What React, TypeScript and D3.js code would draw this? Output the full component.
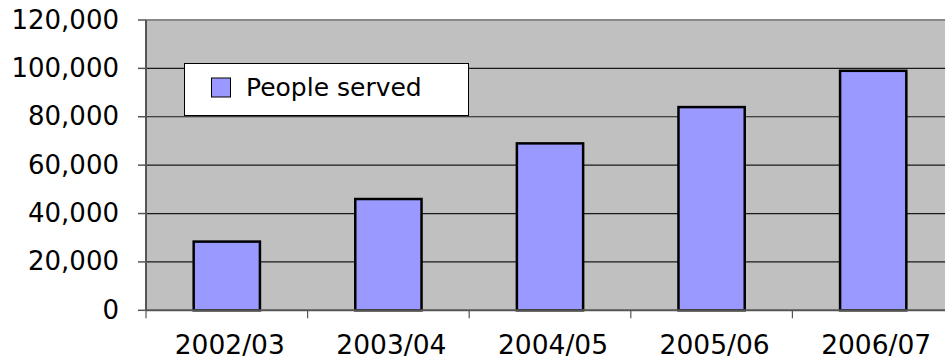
import React from "react";
import * as d3 from "d3";

const categories = ["2002/03", "2003/04", "2004/05", "2005/06", "2006/07"];
const peopleServed = [28400, 46000, 69000, 84000, 99000];
const yTicks = [0, 20000, 40000, 60000, 80000, 100000, 120000];
const seriesName = "People served";

const W = 945;
const H = 363;
const left = 146;
const right = 954;
const top = 20;
const bottom = 310.3;
const FONT = "'DejaVu Sans', sans-serif";

export default function App() {
  const x = d3.scaleBand<string>().domain(categories).range([left, right]).paddingInner(0).paddingOuter(0);
  const y = d3.scaleLinear().domain([0, 120000]).range([bottom, top]);
  const fmt = d3.format(",");
  const bw = x.bandwidth() * 0.41;
  const tickXs = categories.map((c) => x(c)!).concat([right]);

  return (
    <svg width={W} height={H} style={{ position: "absolute", left: 0, top: 0, background: "#fff" }} fontFamily={FONT}>
      <rect x={left} y={top} width={right - left} height={bottom - top} fill="#C0C0C0" />
      {yTicks.filter((t) => t > 0 && t < 120000).map((t) => (
        <line key={t} x1={left} x2={right} y1={y(t)} y2={y(t)} stroke="#1a1a1a" strokeWidth={1.2} />
      ))}
      <line x1={left} x2={right} y1={top} y2={top} stroke="#888" strokeWidth={2} />
      <line x1={left} x2={left} y1={top} y2={bottom} stroke="#555" strokeWidth={2} />
      {yTicks.map((t) => (
        <g key={t}>
          <line x1={left - 8} x2={left} y1={y(t)} y2={y(t)} stroke="#555" strokeWidth={1.5} />
          <text x={119} y={y(t) + 1} textAnchor="end" dominantBaseline="middle" fontSize={26} fill="#000">
            {fmt(t)}
          </text>
        </g>
      ))}
      {categories.map((c, i) => {
        const cx = x(c)! + x.bandwidth() / 2;
        return (
          <rect
            key={c}
            x={cx - bw / 2}
            y={y(peopleServed[i])}
            width={bw}
            height={bottom - y(peopleServed[i])}
            fill="#9999FF"
            stroke="#000"
            strokeWidth={2.5}
          />
        );
      })}
      <line x1={left} x2={right} y1={bottom} y2={bottom} stroke="#555" strokeWidth={2} />
      {tickXs.map((tx, i) => (
        <line key={i} x1={tx} x2={tx} y1={bottom} y2={bottom + 8} stroke="#555" strokeWidth={1.2} />
      ))}
      {categories.map((c) => (
        <text key={c} x={x(c)! + x.bandwidth() / 2 + 3} y={354} textAnchor="middle" fontSize={26.5} fill="#000">
          {c}
        </text>
      ))}
      <rect x={184.5} y={63.5} width={284} height={52} fill="#fff" stroke="#000" strokeWidth={1} />
      <rect x={211.5} y={78} width={19} height={19} fill="#9999FF" stroke="#000" strokeWidth={1} />
      <text x={246} y={96} fontSize={25} fill="#000">
        {seriesName}
      </text>
    </svg>
  );
}
